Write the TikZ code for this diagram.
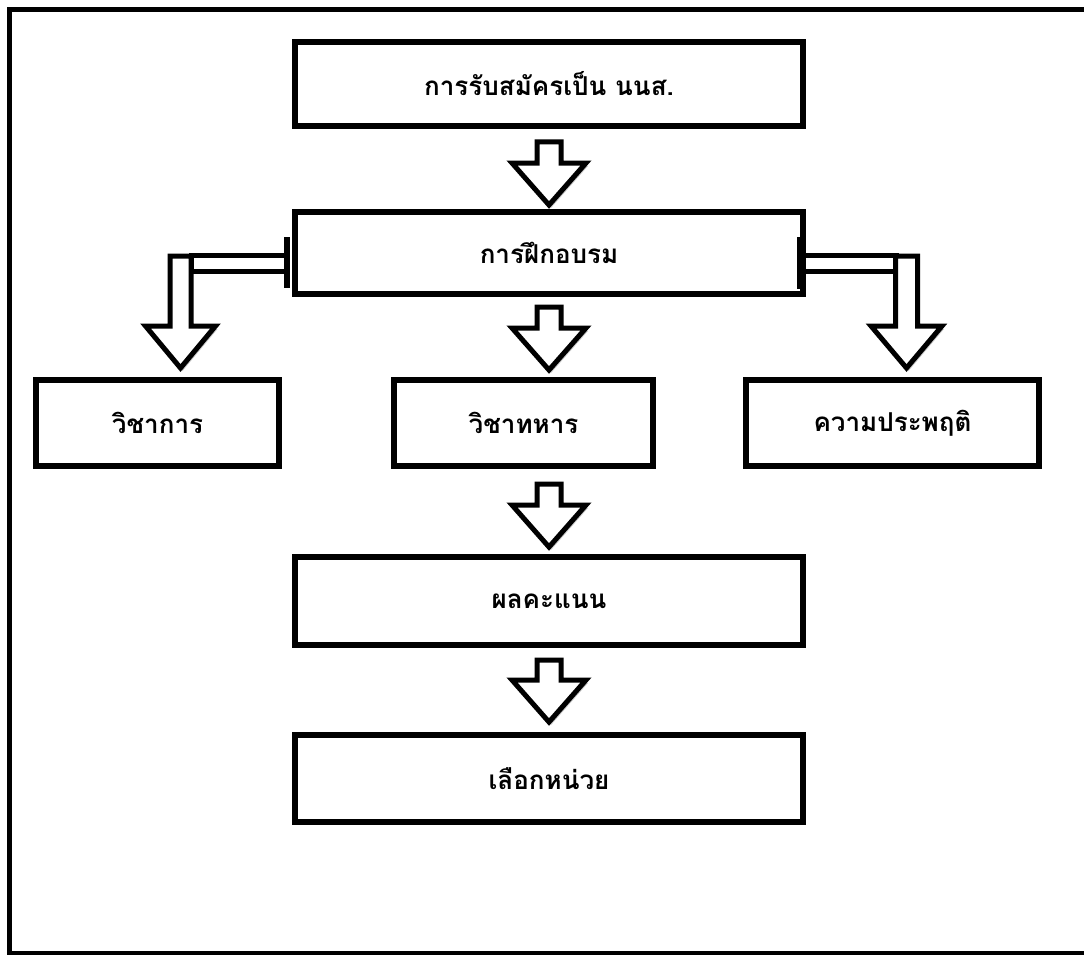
\documentclass[tikz,border=0pt]{standalone}
\usepackage{fontspec}
\newfontfamily\thaifont[Script=Thai]{Loma}
\usetikzlibrary{calc,shadows}
\tikzset{
  softshadow/.style={drop shadow={shadow xshift=2pt, shadow yshift=-3pt, opacity=0.22, fill=black}},
  box/.style={draw=black, line width=5.5pt, fill=white, rectangle, outer sep=0pt, inner sep=0pt,
    font=\thaifont\bfseries\fontsize{26}{30}\selectfont, softshadow},
  barrow/.style={draw=black, line width=5pt, fill=white, line join=miter, softshadow},
  tbar/.style={draw=black, line width=5.5pt},
  frameline/.style={draw=black, line width=4.5pt}
}
% #1 half shaft width, #2 half head width, #3 shaft-top coordinate, #4 tip coordinate
\newcommand{\blockdown}[4]{%
  \draw[barrow] let \p1=#3, \p2=#4 in
    (\x2-#1pt,\y1) -- (\x2+#1pt,\y1) -- (\x2+#1pt,\y2+42pt) -- (\x2+#2pt,\y2+42pt)
    -- (\x2,\y2) -- (\x2-#2pt,\y2+42pt) -- (\x2-#1pt,\y2+42pt) -- cycle;}
\begin{document}
\begin{tikzpicture}[x=1pt,y=-1pt]
\useasboundingbox (0,0) rectangle (1084,955);
\draw[frameline] (9.5,9.5) rectangle (1110,953.5);

\node[box, minimum width=508, minimum height=84] (reg)   at (549,84)    {การรับสมัครเป็น นนส.};
\node[box, minimum width=508, minimum height=82] (train) at (549,253)   {การฝึกอบรม};
\node[box, minimum width=243, minimum height=86] (acad)  at (157.5,423) {วิชาการ};
\node[box, minimum width=259, minimum height=86] (mil)   at (523.5,423) {วิชาทหาร};
\node[box, minimum width=293, minimum height=86] (cond)  at (892.5,423) {ความประพฤติ};
\node[box, minimum width=508, minimum height=88] (score) at (549,601)   {ผลคะแนน};
\node[box, minimum width=508, minimum height=87] (unit)  at (549,778.5) {เลือกหน่วย};

% straight block arrows
\coordinate (s1) at ($(reg.south)+(0,16)$);
\coordinate (t1) at ($(train.north)+(0,-7)$);
\coordinate (s2) at ($(train.south)+(0,13)$);
\coordinate (t2) at ($(train.south |- mil.north)+(0,-10)$);
\coordinate (s3) at ($(score.north |- mil.south)+(0,18)$);
\coordinate (t3) at ($(score.north)+(0,-10)$);
\coordinate (s4) at ($(score.south)+(0,15)$);
\coordinate (t4) at ($(unit.north)+(0,-13)$);
\blockdown{12}{37}{(s1)}{(t1)}
\blockdown{12}{37}{(s2)}{(t2)}
\blockdown{12}{37}{(s3)}{(t3)}
\blockdown{12}{37}{(s4)}{(t4)}

% left bent arrow
\coordinate (lT) at ($(train.west)+(-8,10)$);
\coordinate (ls) at ($(lT)+(-106.5,-7)$);
\coordinate (lt) at ($(acad.north)+(23,-12)$);
\draw[barrow] ($(lT)+(-96,-8)$) rectangle ($(lT)+(0,8)$);
\blockdown{10.5}{35}{(ls)}{(lt)}
\draw[tbar] ($(lT)+(0,-26)$) -- ($(lT)+(0,25)$);

% right bent arrow
\coordinate (rT) at ($(train.east)+(-3,10)$);
\coordinate (rs) at ($(rT)+(106,-7)$);
\coordinate (rt) at ($(cond.north)+(14,-12)$);
\draw[barrow] ($(rT)+(3,-8)$) rectangle ($(rT)+(96,8)$);
\blockdown{11}{35.5}{(rs)}{(rt)}
\draw[tbar] ($(rT)+(0,-26)$) -- ($(rT)+(0,26)$);
\end{tikzpicture}
\end{document}
